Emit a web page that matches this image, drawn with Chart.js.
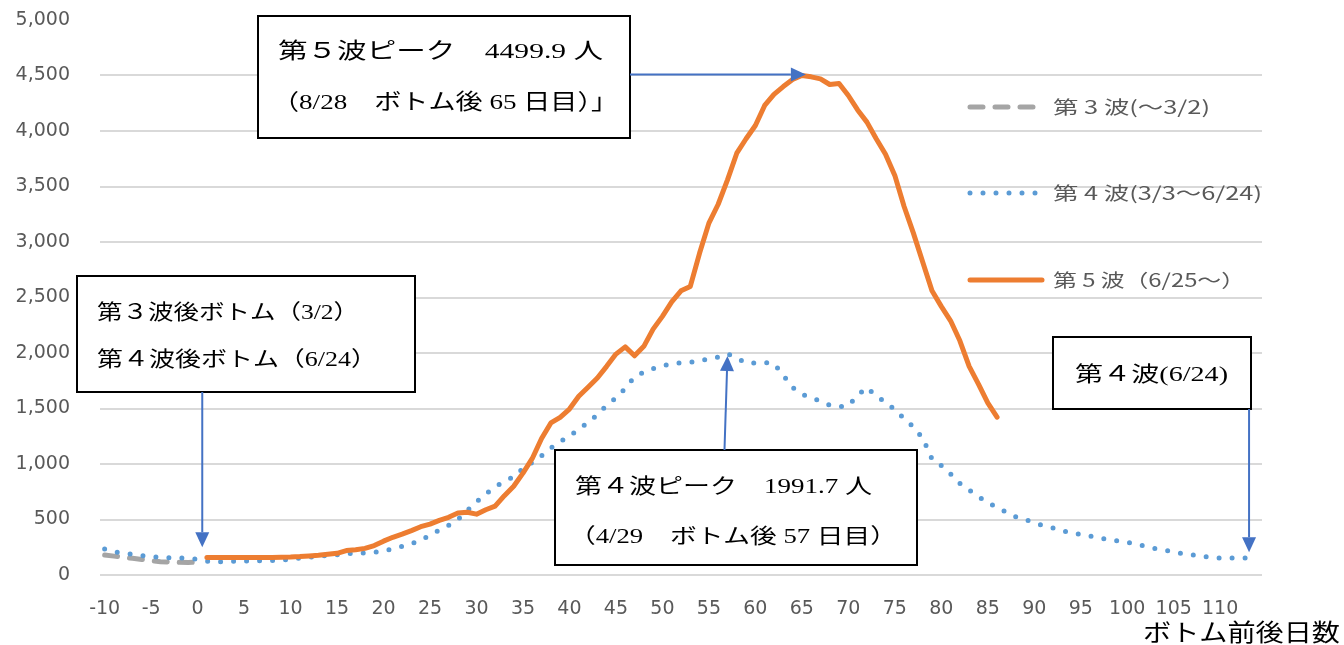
<!DOCTYPE html>
<html lang="ja">
<head>
<meta charset="utf-8">
<title>ボトム前後日数</title>
<script src="https://cdn.jsdelivr.net/npm/chart.js@4.4.0/dist/chart.umd.min.js"></script>
<style>
  body { margin: 0; background: #fff; }
  #wrap { width: 1344px; height: 645px; }
</style>
</head>
<body>
<div id="wrap"><canvas id="waveChart"></canvas></div>
<script>
// days before/after the bottom
const days = [
  -10, -9, -8, -7, -6, -5, -4, -3, -2, -1, 0, 1, 2, 3, 4, 5, 6, 7, 8, 9,
  10, 11, 12, 13, 14, 15, 16, 17, 18, 19, 20, 21, 22, 23, 24, 25, 26, 27, 28, 29,
  30, 31, 32, 33, 34, 35, 36, 37, 38, 39, 40, 41, 42, 43, 44, 45, 46, 47, 48, 49,
  50, 51, 52, 53, 54, 55, 56, 57, 58, 59, 60, 61, 62, 63, 64, 65, 66, 67, 68, 69,
  70, 71, 72, 73, 74, 75, 76, 77, 78, 79, 80, 81, 82, 83, 84, 85, 86, 87, 88, 89,
  90, 91, 92, 93, 94, 95, 96, 97, 98, 99, 100, 101, 102, 103, 104, 105, 106, 107, 108, 109,
  110, 111, 112, 113, 114
];
const xTickLabels = [-10, -5, 0, 5, 10, 15, 20, 25, 30, 35, 40, 45, 50, 55, 60, 65, 70, 75, 80, 85, 90, 95, 100, 105, 110];

// 第3波 : day -10 .. 0
const wave3 = [180, 170, 160, 150, 140, 128, 120, 117, 115, 113, 115];

// 第4波 : day -10 .. 113
const wave4 = [
  234, 210, 195, 188, 175, 165, 160, 155, 153, 150, 142, 125, 117, 122, 125, 126, 126, 128, 130, 135,
  142, 152, 160, 168, 176, 182, 192, 198, 198, 203, 218, 236, 258, 284, 312, 360, 405, 447, 500, 580,
  660, 730, 795, 842, 885, 960, 1015, 1075, 1145, 1200, 1255, 1310, 1377, 1443, 1530, 1595, 1680, 1785, 1827, 1860,
  1885, 1900, 1913, 1917, 1925, 1950, 1962, 1991.7, 1955, 1910, 1910, 1915, 1905, 1800, 1690, 1628, 1600, 1565, 1530, 1515,
  1525, 1620, 1690, 1610, 1560, 1490, 1410, 1335, 1233, 1045, 985, 910, 825, 765, 705, 655, 605, 567, 525, 500,
  470, 445, 425, 400, 378, 365, 350, 333, 320, 308, 295, 278, 258, 238, 224, 210, 192, 182, 168, 160,
  153, 153, 153, 153
];

// 第5波 : day 1 .. 86
const wave5Start = 1;
const wave5 = [
  158, 158, 158, 158, 158, 158, 158, 158, 160, 162, 166, 172, 178, 186, 195, 220, 228, 240, 265, 305,
  340, 368, 400, 435, 459, 492, 520, 558, 565, 548, 588, 620, 715, 800, 918, 1050, 1230, 1370, 1420, 1495,
  1610, 1692, 1775, 1880, 1990, 2055, 1975, 2060, 2215, 2330, 2460, 2560, 2600, 2900, 3170, 3340, 3560, 3800, 3930, 4050,
  4230, 4330, 4400, 4464, 4499.9, 4488, 4470, 4419, 4428, 4320, 4190, 4080, 3930, 3790, 3600, 3320, 3080, 2820, 2560, 2420,
  2290, 2110, 1880, 1720, 1550, 1422
];

const seriesLabels = ['第 5 波（6/25～）', '第 4 波(3/3～6/24)', '第 3 波(～3/2)'];

function onDays(values, firstDay) {
  return days.map(d => {
    const i = d - firstDay;
    return i >= 0 && i < values.length ? values[i] : null;
  });
}

const sansFont = '"Noto Sans CJK JP", "Noto Sans", sans-serif';
const noteFont = '"Liberation Serif", "Noto Sans CJK JP", serif';

// text boxes drawn over the plot
const notes = [
  { x: 258, y: 16, w: 372, h: 122, lines: [
    { text: '第５波ピーク　4499.9 人', dx: 20, dy: 36, width: 325, size: 22 },
    { text: '（8/28　ボトム後 65 日目）」', dx: 14, dy: 87, width: 346, size: 22 } ] },
  { x: 77, y: 276, w: 338, h: 116, lines: [
    { text: '第３波後ボトム（3/2）', dx: 20, dy: 37, width: 262, size: 21 },
    { text: '第４波後ボトム（6/24）', dx: 20, dy: 84, width: 280, size: 21 } ] },
  { x: 555, y: 450, w: 362, h: 115, lines: [
    { text: '第４波ピーク　1991.7 人', dx: 20, dy: 37, width: 297, size: 21 },
    { text: '（4/29　ボトム後 57 日目）', dx: 14, dy: 87, width: 328, size: 21 } ] },
  { x: 1053, y: 337, w: 198, h: 72, lines: [
    { text: '第４波(6/24)', dx: 22, dy: 38, width: 153, size: 21 } ] }
];

function stretchText(ctx, text, x, y, font, color, width) {
  ctx.save();
  ctx.font = font;
  ctx.fillStyle = color;
  ctx.textAlign = 'left';
  ctx.textBaseline = 'middle';
  const w = ctx.measureText(text).width;
  ctx.translate(x, y);
  ctx.scale(width / w, 1);
  ctx.fillText(text, 0, 0);
  ctx.restore();
}

function arrow(ctx, x1, y1, x2, y2) {
  const ang = Math.atan2(y2 - y1, x2 - x1);
  const len = 15;
  const half = 7;
  ctx.save();
  ctx.strokeStyle = '#4472C4';
  ctx.fillStyle = '#4472C4';
  ctx.lineWidth = 2;
  ctx.beginPath();
  ctx.moveTo(x1, y1);
  ctx.lineTo(x2 - Math.cos(ang) * len, y2 - Math.sin(ang) * len);
  ctx.stroke();
  ctx.translate(x2, y2);
  ctx.rotate(ang);
  ctx.beginPath();
  ctx.moveTo(0, 0);
  ctx.lineTo(-len, -half);
  ctx.lineTo(-len, half);
  ctx.closePath();
  ctx.fill();
  ctx.restore();
}

const overlay = {
  id: 'overlay',
  afterDraw(chart) {
    const ctx = chart.ctx;
    const xs = chart.scales.x;
    const ys = chart.scales.y;
    const px = d => xs.getPixelForValue(days.indexOf(d));

    // legend, inside the plot on the right
    const rows = [2, 1, 0];
    const rowY = [107, 193, 280];
    rows.forEach((di, r) => {
      const ds = chart.data.datasets[di];
      ctx.save();
      ctx.strokeStyle = ds.borderColor;
      ctx.lineWidth = ds.borderWidth;
      ctx.lineCap = 'round';
      ctx.setLineDash(ds.borderDash || []);
      ctx.beginPath();
      ctx.moveTo(970, rowY[r]);
      ctx.lineTo(1042, rowY[r]);
      ctx.stroke();
      ctx.restore();
      const tw = [157, 209, 192][r];
      stretchText(ctx, ds.label, 1053, rowY[r], '18px ' + sansFont, '#595959', tw);
    });

    // boxes
    notes.forEach(n => {
      ctx.save();
      ctx.fillStyle = '#fff';
      ctx.fillRect(n.x, n.y, n.w, n.h);
      ctx.strokeStyle = '#000';
      ctx.lineWidth = 2;
      ctx.strokeRect(n.x, n.y, n.w, n.h);
      ctx.restore();
      n.lines.forEach(l => {
        stretchText(ctx, l.text, n.x + l.dx, n.y + l.dy, l.size + 'px ' + noteFont, '#000', l.width);
      });
    });

    // arrows to the points
    const b1 = notes[0], b2 = notes[1], b3 = notes[2], b4 = notes[3];
    arrow(ctx, b1.x + b1.w, ys.getPixelForValue(4499.9) - 1, px(65) + 4, ys.getPixelForValue(4499.9) - 1);
    const bx = (px(0) + px(1)) / 2;
    arrow(ctx, bx, b2.y + b2.h, bx, ys.getPixelForValue(250));
    arrow(ctx, px(57) - 3, b3.y, px(57), ys.getPixelForValue(1991.7) + 2);
    arrow(ctx, px(113) + 1, b4.y + b4.h, px(113) + 1, ys.getPixelForValue(205));

    // axis title
    stretchText(ctx, 'ボトム前後日数', 1143, 632, '24px ' + sansFont, '#000', 197);
  }
};

new Chart(document.getElementById('waveChart'), {
  type: 'line',
  data: {
    labels: days,
    datasets: [
      {
        label: seriesLabels[0],
        data: onDays(wave5, wave5Start),
        borderColor: '#ED7D31',
        borderWidth: 5,
        borderCapStyle: 'round',
        borderJoinStyle: 'round',
        pointRadius: 0
      },
      {
        label: seriesLabels[1],
        data: onDays(wave4, -10),
        borderColor: '#5B9BD5',
        borderWidth: 5,
        borderDash: [0, 13],
        borderCapStyle: 'round',
        borderJoinStyle: 'round',
        pointRadius: 0
      },
      {
        label: seriesLabels[2],
        data: onDays(wave3, -10),
        borderColor: '#A5A5A5',
        borderWidth: 5,
        borderDash: [13, 12],
        borderCapStyle: 'round',
        borderJoinStyle: 'round',
        pointRadius: 0
      }
    ]
  },
  options: {
    responsive: true,
    maintainAspectRatio: false,
    animation: false,
    layout: { padding: { top: 20, right: 82, left: 0, bottom: 0 } },
    plugins: {
      legend: { display: false },
      tooltip: { enabled: false }
    },
    scales: {
      x: {
        offset: true,
        grid: { display: false },
        border: { display: false },
        ticks: {
          autoSkip: false,
          maxRotation: 0,
          minRotation: 0,
          padding: 15,
          color: '#595959',
          font: { family: 'DejaVu Sans', size: 19 },
          callback: function (val) {
            const d = days[val];
            return xTickLabels.includes(d) ? String(d) : '';
          }
        },
        afterFit: s => { s.height = 70; }
      },
      y: {
        min: 0,
        max: 5000,
        ticks: {
          stepSize: 500,
          padding: 30,
          color: '#595959',
          font: { family: 'DejaVu Sans', size: 19 },
          callback: v => v.toLocaleString('en-US')
        },
        grid: {
          color: c => (c.tick && c.tick.value === 5000 ? 'rgba(0,0,0,0)' : '#D9D9D9'),
          lineWidth: 2,
          drawTicks: false
        },
        border: { display: false },
        afterFit: s => {
          s.width = 100;
          s.paddingTop = 12;
          s.paddingBottom = 12;
        }
      }
    }
  },
  plugins: [overlay]
});
</script>
</body>
</html>
